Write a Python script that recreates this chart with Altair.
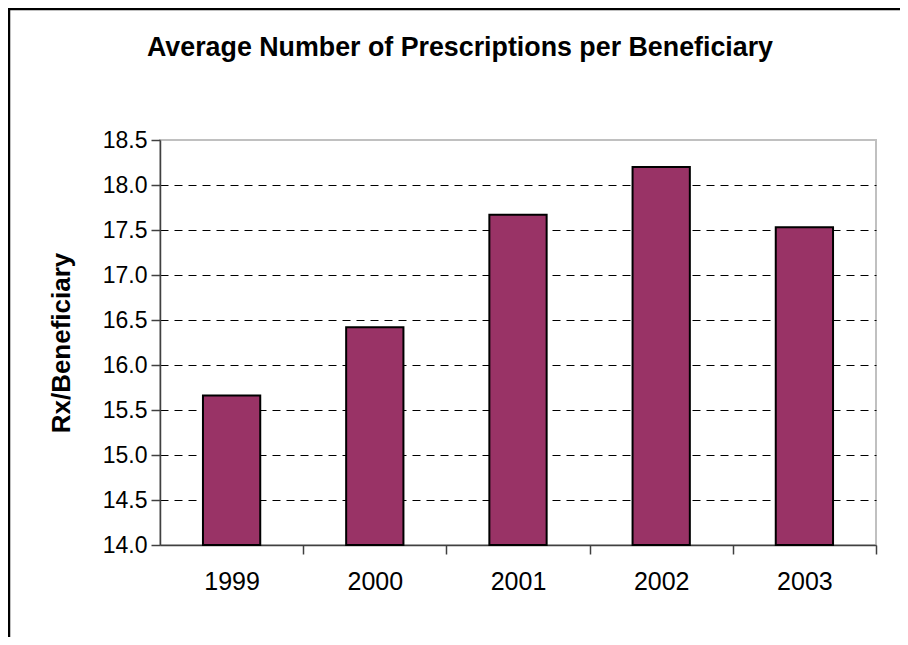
import altair as alt
import pandas as pd

years = ["1999", "2000", "2001", "2002", "2003"]
rx_per_beneficiary = [15.66, 16.42, 17.67, 18.20, 17.53]
y_ticks = [14.0, 14.5, 15.0, 15.5, 16.0, 16.5, 17.0, 17.5, 18.0, 18.5]
title_text = ["Average Number of Prescriptions per Beneficiary"]

df = pd.DataFrame({"Year": years, "Rx": rx_per_beneficiary})
frame_df = pd.DataFrame({"t": title_text})

FONT = "Liberation Sans"

bars = alt.Chart(df).mark_bar(
    color="#993366", stroke="black", strokeWidth=2
).encode(
    x=alt.X("Year:N", sort=years,
            scale=alt.Scale(paddingInner=0.6, paddingOuter=0.3),
            axis=alt.Axis(title=None, labelAngle=0, bandPosition=1, tickOffset=43,
                          labelOffset=-43,
                          tickSize=9, tickColor="#404040", tickWidth=1.5,
                          domainColor="#404040", domainWidth=1.5,
                          labelFont=FONT, labelFontSize=25, labelColor="black",
                          labelPadding=15, grid=False)),
    y=alt.Y("Rx:Q",
            scale=alt.Scale(domain=[14, 18.5], nice=False, zero=False),
            axis=alt.Axis(title="Rx/Beneficiary", values=y_ticks, format=".1f",
                          tickSize=9, tickColor="#404040", tickWidth=1.5,
                          domainColor="#404040", domainWidth=1.5,
                          labelFont=FONT, labelFontSize=23, labelColor="black",
                          labelPadding=4,
                          titleFont=FONT, titleFontSize=26, titleFontWeight="bold",
                          titleColor="black", titlePadding=28,
                          grid=True,
                          gridColor=alt.condition("datum.value >= 18.5 || datum.value <= 14",
                                                  alt.value("transparent"), alt.value("black")),
                          gridDash=[8, 6], gridWidth=1)),
    y2=alt.datum(14),
)

frame_left = alt.Chart(frame_df).mark_rule(color="black", strokeWidth=2.5).encode(
    x=alt.value(-151), y=alt.value(-131), y2=alt.value(520)
)
frame_top = alt.Chart(frame_df).mark_rule(color="black", strokeWidth=2.5).encode(
    y=alt.value(-131), x=alt.value(-152), x2=alt.value(760)
)
title = alt.Chart(frame_df).mark_text(
    font=FONT, fontSize=26.8, fontWeight="bold", color="black",
    align="center", baseline="alphabetic"
).encode(x=alt.value(300), y=alt.value(-84), text="t:N")

chart = alt.layer(bars, frame_left, frame_top, title).properties(
    width=716, height=405,
    autosize=alt.AutoSizeParams(type="none"),
    padding={"left": 152, "top": 132, "right": 24, "bottom": 92},
).configure_view(stroke="#c0c0c0", strokeWidth=2)

chart.save("out.html", embed_options={"renderer": "svg", "actions": False})
